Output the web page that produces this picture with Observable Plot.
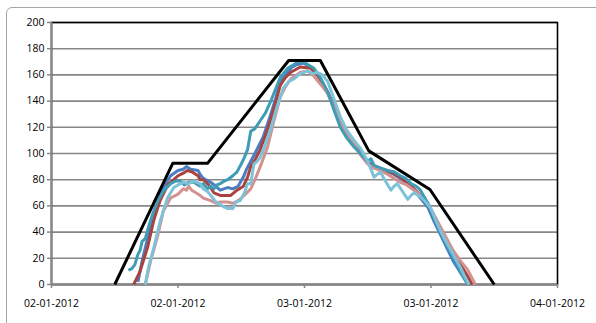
<!DOCTYPE html>
<html><head><meta charset="utf-8">
<script src="https://cdn.jsdelivr.net/npm/d3@7"></script>
<script src="https://cdn.jsdelivr.net/npm/@observablehq/plot@0.6"></script>
<style>
html,body{margin:0;padding:0;background:#fff;}
body{width:596px;height:323px;overflow:hidden;position:relative;}
#frame{position:absolute;left:6px;top:7px;width:620px;height:340px;border:1.5px solid #a6a6a6;border-radius:6px;box-sizing:border-box;}
#chart{position:absolute;left:0;top:0;}
</style></head><body><div id="frame"></div><div id="chart"></div>
<script>
const xTicks = [0, 12, 24, 36, 48];
const xTickLabels = ["02-01-2012", "02-01-2012", "03-01-2012", "03-01-2012", "04-01-2012"];
const yTicks = [0, 20, 40, 60, 80, 100, 120, 140, 160, 180, 200];

const seriesNames = ["Blue", "DarkRed", "Pink", "Teal", "LightBlue", "Target"];
const seriesColors = ["#4a7ec3", "#a8433f", "#d4918f", "#3e9db5", "#7dc2d8", "#000000"];

const target = [[6.0,0],[11.5,92.5],[14.8,92.5],[22.5,171],[25.5,171],[30.1,102],[35.9,72.5],[42.0,0]];

const teal = [[7.3,11],[7.6,12],[7.9,15],[8.2,23],[8.4,26],[8.6,33],[8.9,35],[9.1,41],[9.6,54],[10.1,64],[10.6,71],[11.3,77],[11.8,79],[12.2,79],[12.6,76],[13.0,78],[13.5,78],[14.1,75],[14.4,77],[14.8,73],[15.1,75],[15.4,73],[15.7,76],[16.0,77],[16.4,79],[16.7,80],[17.2,83],[17.6,86],[18.0,92],[18.3,97],[18.6,103],[18.9,117],[19.3,119],[19.8,125],[20.3,131],[20.8,140],[21.2,148],[21.7,158],[22.4,165],[23.0,168],[23.6,171],[24.3,168],[24.9,165],[25.5,158],[26.2,147],[26.8,133],[27.4,120],[28.0,112],[28.7,105],[29.3,100],[30.0,94],[30.3,96],[30.6,91],[31.2,89],[31.9,87],[32.5,86],[33.1,83],[33.6,81],[34.1,77],[34.6,75],[35.0,72],[35.7,62],[36.3,51],[36.9,40],[37.4,32],[37.9,24],[38.4,17],[38.8,10],[39.5,0]];

const blue = [[8.2,2],[8.6,18],[9.2,38],[9.9,56],[10.5,73],[11.3,83],[12.0,87],[12.5,88],[12.8,90],[13.2,88],[13.9,87],[14.1,84],[14.4,81],[15.1,78],[15.6,75],[16.0,72],[16.7,74],[17.2,73],[17.7,75],[18.2,82],[18.5,88],[19.3,100],[20.1,113],[20.8,130],[21.3,143],[21.7,155],[22.4,162],[22.8,166],[23.3,168],[23.9,169],[24.6,166],[25.2,161],[25.7,154],[26.2,146],[26.8,136],[27.4,126],[28.0,117],[28.7,109],[29.3,101],[30.0,94],[30.6,89],[31.2,88],[31.9,86],[32.5,84],[33.1,81],[33.7,77],[34.4,72],[35.0,66],[35.7,59],[36.3,48],[36.9,38],[37.5,28],[38.1,18],[38.8,9],[39.5,0]];

const darkRed = [[7.8,0],[8.4,10],[9.1,28],[9.7,49],[10.3,64],[11.1,77],[11.6,80],[12.0,83],[12.5,85],[12.9,87],[13.3,86],[13.9,83],[14.1,80],[14.4,80],[14.8,77],[15.1,74],[15.4,70],[16.0,68],[16.5,68],[17.0,68],[17.6,72],[18.2,75],[18.6,82],[18.9,90],[19.3,95],[19.8,103],[20.3,114],[20.8,126],[21.3,140],[21.7,152],[22.2,158],[22.7,162],[23.6,166],[24.6,165],[25.2,160],[25.7,154],[26.2,147],[26.8,136],[27.4,125],[28.0,116],[28.7,108],[29.3,100],[30.0,93],[30.6,90],[31.2,88],[32.2,86],[33.1,82],[33.7,78],[34.4,73],[35.0,68],[35.7,62],[36.3,52],[36.9,43],[37.5,33],[38.1,24],[38.8,15],[39.5,6],[39.9,0]];

const pink = [[8.9,0],[9.4,18],[10.1,38],[10.6,56],[11.3,66],[12.0,69],[12.5,73],[12.8,72],[13.0,75],[13.3,72],[13.7,70],[14.1,68],[14.4,66],[15.1,64],[15.6,62],[16.0,63],[16.7,63],[17.2,62],[17.7,64],[18.0,66],[18.4,69],[18.9,73],[19.3,80],[19.8,90],[20.5,105],[21.1,125],[21.7,143],[22.2,151],[22.7,157],[23.1,159],[23.6,162],[24.3,163],[24.9,159],[25.5,153],[26.2,146],[26.8,135],[27.4,124],[28.0,115],[28.7,107],[29.3,99],[30.0,92],[30.6,89],[31.2,87],[31.9,84],[32.5,81],[33.1,78],[33.7,76],[34.4,72],[35.0,68],[35.7,62],[36.3,53],[36.9,44],[37.5,35],[38.1,26],[38.8,18],[39.5,11],[40.2,0]];

const lightBlue = [[8.9,0],[9.2,13],[9.7,28],[10.3,48],[11.0,66],[11.6,74],[12.0,76],[12.5,78],[13.0,77],[13.5,79],[14.1,77],[14.4,73],[14.8,71],[15.1,68],[15.6,63],[16.0,61],[16.4,59],[16.7,58],[17.2,58],[17.5,63],[17.9,64],[18.3,70],[18.6,77],[18.9,77],[19.2,92],[19.5,94],[19.8,97],[20.2,105],[20.5,112],[20.8,119],[21.4,136],[22.0,150],[22.5,155],[23.0,157],[23.6,161],[24.3,163],[24.8,161],[25.2,162],[25.7,160],[26.2,155],[26.6,146],[27.0,137],[27.4,128],[28.0,118],[28.7,110],[29.3,104],[30.0,94],[30.3,88],[30.6,82],[30.9,84],[31.2,86],[31.6,80],[32.2,72],[32.5,75],[32.8,77],[33.3,71],[33.8,65],[34.1,68],[34.4,70],[35.0,67],[35.5,63],[36.0,58],[36.4,50],[36.9,41],[37.4,33],[37.9,26],[38.3,20],[38.8,13],[39.2,6],[39.6,0]];

const seriesData = [blue, darkRed, pink, teal, lightBlue, target];
const rows = [];
seriesData.forEach((arr, i) => arr.forEach(([h, v]) => rows.push({series: seriesNames[i], h, v})));

const chart = Plot.plot({
  width: 596, height: 323,
  marginLeft: 51, marginRight: 39, marginTop: 22, marginBottom: 39,
  style: {fontFamily: "'Open Sans', sans-serif", fontSize: "10.5px", color: "#000", background: "transparent", overflow: "visible"},
  x: {domain: [0, 48]},
  y: {domain: [0, 200]},
  color: {domain: seriesNames, range: seriesColors},
  marks: [
    Plot.gridY(yTicks, {stroke: "#878787", strokeOpacity: 1, strokeWidth: 1.6}),
    Plot.frame({stroke: "#000", strokeWidth: 1.6}),
    Plot.ruleX([0], {stroke: "#878787", strokeWidth: 1.8}),
    Plot.ruleY([0], {stroke: "#878787", strokeWidth: 1.8}),
    Plot.axisY(yTicks, {tickSize: 4, tickPadding: 3, stroke: "#878787", strokeWidth: 1.5, color: "#000", label: null}),
    Plot.axisX(xTicks, {tickSize: 4, tickPadding: 11, stroke: "#878787", strokeWidth: 1.5, color: "#000", label: null, tickFormat: d => xTickLabels[xTicks.indexOf(d)]}),
    Plot.line(rows, {x: "h", y: "v", z: "series", stroke: "series", strokeWidth: 3, strokeLinejoin: "round", strokeLinecap: "butt", curve: "linear"})
  ]
});
document.getElementById("chart").appendChild(chart);
</script>
</body></html>
